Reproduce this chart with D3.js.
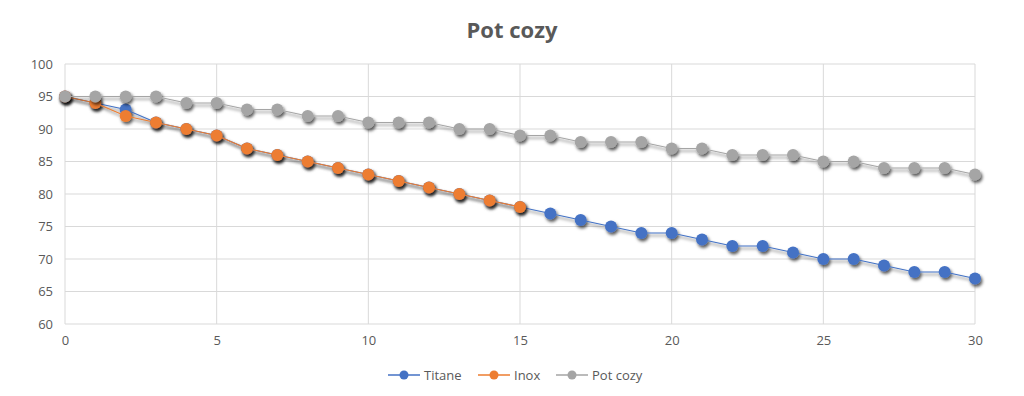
<!DOCTYPE html>
<html>
<head>
<meta charset="utf-8">
<script src="https://cdn.jsdelivr.net/npm/d3@7"></script>
<style>
  body { margin: 0; background: #fff; }
  text { font-family: "Open Sans", "Liberation Sans", sans-serif; }
</style>
</head>
<body>
<div id="viz"></div>
<script>
const xValues = d3.range(0, 31);
const titane = [95, 94, 93, 91, 90, 89, 87, 86, 85, 84, 83, 82, 81, 80, 79, 78, 77, 76, 75, 74, 74, 73, 72, 72, 71, 70, 70, 69, 68, 68, 67];
const inox = [95, 94, 92, 91, 90, 89, 87, 86, 85, 84, 83, 82, 81, 80, 79, 78];
const potCozy = [95, 95, 95, 95, 94, 94, 93, 93, 92, 92, 91, 91, 91, 90, 90, 89, 89, 88, 88, 88, 87, 87, 86, 86, 86, 85, 85, 84, 84, 84, 83];
const seriesNames = ["Titane", "Inox", "Pot cozy"];
const seriesColors = ["#4472C4", "#ED7D31", "#A5A5A5"];
const xTicks = [0, 5, 10, 15, 20, 25, 30];
const yTicks = [60, 65, 70, 75, 80, 85, 90, 95, 100];

const W = 1024, H = 396;
const margin = {top: 64, right: 49, bottom: 72, left: 65};
const width = W - margin.left - margin.right,
    height = H - margin.top - margin.bottom;

const svg = d3.select("#viz")
    .append("svg")
        .attr("width", W)
        .attr("height", H);

const defs = svg.append("defs");
defs.append("filter")
    .attr("id", "shadow")
    .attr("x", "-20%").attr("y", "-20%")
    .attr("width", "140%").attr("height", "140%")
  .append("feDropShadow")
    .attr("dx", 1.5).attr("dy", 2.5)
    .attr("stdDeviation", 1.6)
    .attr("flood-color", "#000")
    .attr("flood-opacity", 0.65);

svg.append("text")
    .attr("x", W / 2)
    .attr("y", 38)
    .attr("text-anchor", "middle")
    .attr("font-size", 22)
    .attr("font-weight", "bold")
    .attr("fill", "#595959")
    .text("Pot cozy");

const g = svg.append("g")
    .attr("transform", `translate(${margin.left},${margin.top})`);

const x = d3.scaleLinear().domain([0, 30]).range([0, width]);
const y = d3.scaleLinear().domain([60, 100]).range([height, 0]);

// grid
g.append("g")
    .selectAll("line")
    .data(yTicks)
    .enter().append("line")
        .attr("x1", 0).attr("x2", width)
        .attr("y1", d => y(d)).attr("y2", d => y(d))
        .attr("stroke", "#d9d9d9").attr("stroke-width", 1);
g.append("g")
    .selectAll("line")
    .data(xTicks)
    .enter().append("line")
        .attr("x1", d => x(d)).attr("x2", d => x(d))
        .attr("y1", 0).attr("y2", height)
        .attr("stroke", "#d9d9d9").attr("stroke-width", 1);

// axes
const yAxis = g.append("g")
    .call(d3.axisLeft(y).tickValues(yTicks).tickSize(0).tickPadding(12));
yAxis.select(".domain").remove();
yAxis.selectAll("text").attr("font-size", 13).attr("fill", "#595959");

const xAxis = g.append("g")
    .attr("transform", `translate(0,${height})`)
    .call(d3.axisBottom(x).tickValues(xTicks).tickSize(0).tickPadding(12));
xAxis.select(".domain").remove();
xAxis.selectAll("text").attr("font-size", 13).attr("fill", "#595959");

// series
const allSeries = [titane, inox, potCozy];
const line = d3.line()
    .x((d, i) => x(xValues[i]))
    .y(d => y(d));

allSeries.forEach(function(values, s) {
    const sg = g.append("g").attr("filter", "url(#shadow)");
    sg.append("path")
        .datum(values)
        .attr("fill", "none")
        .attr("stroke", seriesColors[s])
        .attr("stroke-width", 1.2)
        .attr("d", line);
    sg.selectAll("circle")
        .data(values)
        .enter().append("circle")
            .attr("cx", (d, i) => x(xValues[i]))
            .attr("cy", d => y(d))
            .attr("r", 6)
            .attr("fill", seriesColors[s]);
});

// legend
const legendX = [388, 478, 556];
const legend = svg.append("g");
seriesNames.forEach(function(name, i) {
    const lg = legend.append("g").attr("transform", `translate(${legendX[i]},375)`);
    lg.append("line")
        .attr("x1", 0).attr("x2", 32)
        .attr("stroke", seriesColors[i]).attr("stroke-width", 1.5);
    lg.append("circle")
        .attr("cx", 16).attr("r", 4.5)
        .attr("fill", seriesColors[i]);
    lg.append("text")
        .attr("x", 36).attr("y", 5)
        .attr("font-size", 13)
        .attr("fill", "#595959")
        .text(name);
});
</script>
</body>
</html>
